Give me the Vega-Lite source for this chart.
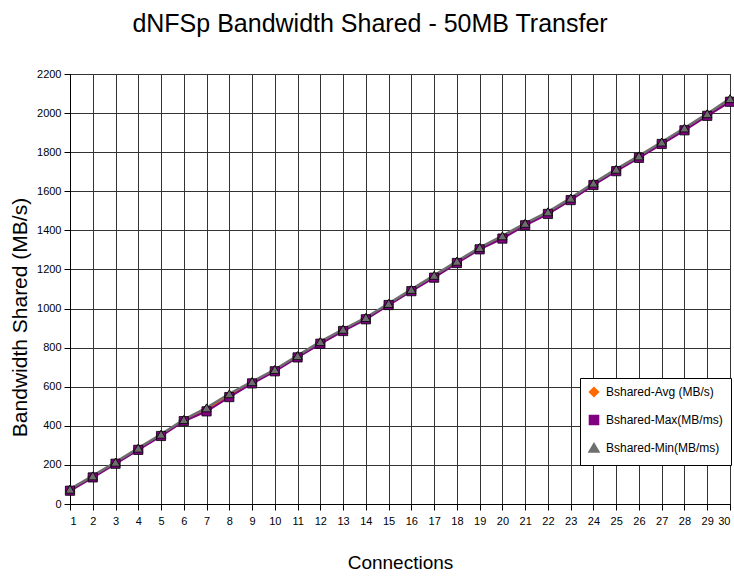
{
  "$schema": "https://vega.github.io/schema/vega-lite/v6.json",
  "width": 660,
  "height": 430,
  "autosize": {"type": "none"},
  "padding": {"left": 70, "top": 74, "right": 4, "bottom": 75},
  "background": "white",
  "title": {
    "text": "dNFSp Bandwidth Shared - 50MB Transfer",
    "font": "Liberation Sans, Arial, sans-serif",
    "fontSize": 25,
    "fontWeight": "normal",
    "color": "black",
    "anchor": "middle",
    "dx": -30,
    "offset": 31
  },
  "config": {
    "view": {"stroke": "black", "strokeWidth": 1},
    "font": "Liberation Sans, Arial, sans-serif"
  },
  "data": {
    "values": [
      {"conn": 1, "Avg": 72, "Max": 68, "Min": 76},
      {"conn": 2, "Avg": 140, "Max": 136, "Min": 144},
      {"conn": 3, "Avg": 210, "Max": 206, "Min": 214},
      {"conn": 4, "Avg": 282, "Max": 277, "Min": 286},
      {"conn": 5, "Avg": 353, "Max": 348, "Min": 357},
      {"conn": 6, "Avg": 428, "Max": 424, "Min": 432},
      {"conn": 7, "Avg": 484, "Max": 474, "Min": 492},
      {"conn": 8, "Avg": 556, "Max": 547, "Min": 564},
      {"conn": 9, "Avg": 622, "Max": 617, "Min": 626},
      {"conn": 10, "Avg": 684, "Max": 679, "Min": 688},
      {"conn": 11, "Avg": 755, "Max": 750, "Min": 759},
      {"conn": 12, "Avg": 826, "Max": 820, "Min": 831},
      {"conn": 13, "Avg": 890, "Max": 885, "Min": 894},
      {"conn": 14, "Avg": 950, "Max": 945, "Min": 954},
      {"conn": 15, "Avg": 1022, "Max": 1018, "Min": 1026},
      {"conn": 16, "Avg": 1094, "Max": 1089, "Min": 1098},
      {"conn": 17, "Avg": 1164, "Max": 1158, "Min": 1170},
      {"conn": 18, "Avg": 1238, "Max": 1233, "Min": 1242},
      {"conn": 19, "Avg": 1308, "Max": 1303, "Min": 1312},
      {"conn": 20, "Avg": 1365, "Max": 1358, "Min": 1372},
      {"conn": 21, "Avg": 1432, "Max": 1426, "Min": 1436},
      {"conn": 22, "Avg": 1490, "Max": 1484, "Min": 1495},
      {"conn": 23, "Avg": 1560, "Max": 1555, "Min": 1565},
      {"conn": 24, "Avg": 1637, "Max": 1632, "Min": 1642},
      {"conn": 25, "Avg": 1708, "Max": 1703, "Min": 1713},
      {"conn": 26, "Avg": 1776, "Max": 1771, "Min": 1781},
      {"conn": 27, "Avg": 1847, "Max": 1842, "Min": 1852},
      {"conn": 28, "Avg": 1918, "Max": 1912, "Min": 1924},
      {"conn": 29, "Avg": 1992, "Max": 1986, "Min": 1997},
      {"conn": 30, "Avg": 2066, "Max": 2058, "Min": 2074}
    ]
  },
  "transform": [
    {"fold": ["Avg", "Max", "Min"], "as": ["key", "value"]},
    {"lookup": "key", "from": {"data": {"values": [
      {"key": "Avg", "series": "Bshared-Avg (MB/s)"},
      {"key": "Max", "series": "Bshared-Max(MB/ms)"},
      {"key": "Min", "series": "Bshared-Min(MB/ms)"}
    ]}, "key": "key", "fields": ["series"]}}
  ],
  "encoding": {
    "x": {
      "field": "conn", "type": "quantitative",
      "scale": {"domain": [1, 30], "nice": false, "zero": false},
      "axis": {
        "title": "Connections", "titleFontSize": 19, "titleFontWeight": "normal", "titleColor": "black", "titlePadding": 27,
        "values": [1,2,3,4,5,6,7,8,9,10,11,12,13,14,15,16,17,18,19,20,21,22,23,24,25,26,27,28,29,30],
        "labelFontSize": 11, "labelColor": "black", "labelPadding": 5, "labelOverlap": false,
        "tickColor": "black", "tickSize": 6, "domainColor": "black",
        "grid": true, "gridColor": "#333", "gridOpacity": 1, "gridWidth": 1
      }
    },
    "y": {
      "field": "value", "type": "quantitative",
      "scale": {"domain": [0, 2200], "nice": false},
      "axis": {
        "title": "Bandwidth Shared (MB/s)", "titleFontSize": 21, "titleFontWeight": "normal", "titleColor": "black", "titlePadding": 6,
        "titleY": 243,
        "values": [0,200,400,600,800,1000,1200,1400,1600,1800,2000,2200], "format": "d",
        "labelFontSize": 11, "labelColor": "black", "labelPadding": 3,
        "tickColor": "black", "tickSize": 6, "domainColor": "black",
        "grid": true, "gridColor": "#333", "gridOpacity": 1, "gridWidth": 1
      }
    },
    "color": {
      "field": "series", "type": "nominal",
      "scale": {"domain": ["Bshared-Avg (MB/s)", "Bshared-Max(MB/ms)", "Bshared-Min(MB/ms)"], "range": ["#ff6a00", "#800080", "#6e6e6e"]},
      "legend": {
        "title": null, "orient": "none", "legendX": 510, "legendY": 304,
        "strokeColor": "black", "fillColor": "white", "padding": 8,
        "labelFontSize": 12, "labelColor": "black", "rowPadding": 10, "labelOffset": 6,
        "symbolSize": 70, "symbolStrokeColor": "black", "symbolStrokeWidth": 0.6, "labelLimit": 200
      }
    }
  },
  "layer": [
    {
      "mark": {"type": "line"},
      "encoding": {
        "strokeWidth": {
          "field": "series", "type": "nominal",
          "scale": {"domain": ["Bshared-Avg (MB/s)", "Bshared-Max(MB/ms)", "Bshared-Min(MB/ms)"], "range": [2, 2.5, 6]},
          "legend": null
        }
      }
    },
    {
      "mark": {"type": "point", "filled": true, "size": 85, "stroke": "black", "strokeWidth": 0.8, "opacity": 1},
      "encoding": {
        "shape": {
          "field": "series", "type": "nominal",
          "scale": {"domain": ["Bshared-Avg (MB/s)", "Bshared-Max(MB/ms)", "Bshared-Min(MB/ms)"], "range": ["diamond", "square", "triangle-up"]}
        }
      }
    }
  ]
}
